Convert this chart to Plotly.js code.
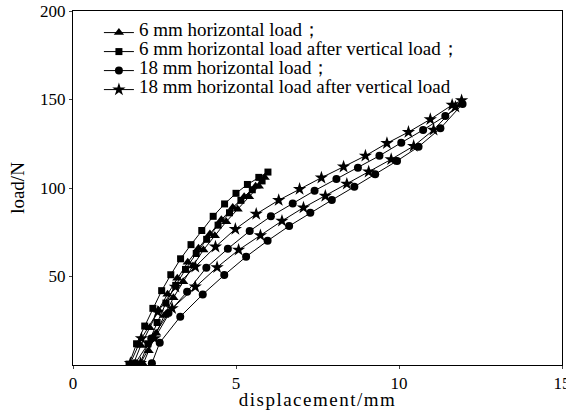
<!DOCTYPE html>
<html>
<head>
<meta charset="utf-8">
<script src="https://cdn.plot.ly/plotly-3.0.1.min.js"></script>
<style>
html,body{margin:0;padding:0;background:#fff;}
#chart{width:566px;height:410px;}
#chart text{font-family:"Liberation Serif","Times New Roman",serif !important;}
#chart .legend .legendtext{font-size:19px !important;}
#chart .legend .scrollbox{clip-path:none !important;}
#chart .legend g{clip-path:none !important;}
#chart .xtitle{letter-spacing:1.5px;}
</style>
</head>
<body>
<div id="chart"></div>
<script>
// 6 mm horizontal load (triangle): loading branch then unloading branch
const disp6H = [1.85, 2.08, 2.35, 2.62, 2.9, 3.2, 3.52, 3.85, 4.2, 4.55, 4.9, 5.25, 5.6, 5.88,
                5.7, 5.4, 5.05, 4.7, 4.35, 4.0, 3.68, 3.38, 3.08, 2.8, 2.55, 2.32, 2.15];
const load6H = [0.5, 11, 21, 31, 40, 49, 58, 66, 74, 82, 89, 95, 101, 106,
                101, 95, 88, 81, 73, 65, 56, 47, 38, 28, 18, 8, 0.5];
// 6 mm horizontal load after vertical load (square)
const disp6HV = [1.72, 1.95, 2.2, 2.45, 2.72, 3.0, 3.3, 3.62, 3.95, 4.3, 4.65, 5.0, 5.35, 5.7, 5.98,
                 5.8, 5.5, 5.15, 4.8, 4.45, 4.1, 3.78, 3.45, 3.15, 2.85, 2.58, 2.3, 2.05];
const load6HV = [0.5, 12, 22, 32, 42, 51, 60, 68, 76, 84, 91, 97, 102, 106, 109,
                 104, 99, 93, 86, 79, 71, 63, 54, 45, 35, 24, 12, 0.5];
// 18 mm horizontal load (circle)
const disp18H = [1.91, 2.4, 2.93, 3.50, 4.09, 4.75, 5.42, 6.07, 6.74, 7.41, 8.08, 8.74, 9.40, 10.07, 10.74, 11.42, 11.95,
                 11.27, 10.60, 9.94, 9.27, 8.63, 7.94, 7.28, 6.63, 5.97, 5.31, 4.64, 3.98, 3.29, 2.66, 2.42];
const load18H = [1.0, 15, 29.4, 41.4, 55.0, 65.7, 75.7, 84.0, 91.2, 98.5, 105.1, 111.5, 118.2, 125.6, 132.8, 140.7, 147.5,
                 133.7, 123.3, 115.3, 107.7, 100.7, 93.2, 86.0, 78.5, 70.2, 61.2, 50.8, 39.9, 27.3, 12.6, 1.0];
// 18 mm horizontal load after vertical load (star/diamond)
const disp18HV = [1.76, 2.1, 2.6, 3.14, 3.75, 4.37, 4.98, 5.62, 6.31, 6.95, 7.62, 8.30, 8.97, 9.63, 10.29, 10.96, 11.63, 11.92,
                  11.73, 11.06, 10.45, 9.76, 9.07, 8.40, 7.74, 7.07, 6.41, 5.75, 5.08, 4.42, 3.75, 3.04, 2.5, 2.07];
const load18HV = [1.0, 15, 30, 44.1, 55.5, 66.8, 76.8, 85.3, 93.1, 99.4, 105.8, 112.0, 118.2, 125.3, 131.6, 138.8, 146.9, 149.5,
                  145.8, 132.8, 123.7, 116.2, 109.2, 102.3, 95.5, 88.9, 81.4, 73.2, 65.0, 55.2, 44.2, 32.0, 15, 1.0];

const seriesNames = ["6 mm horizontal load；", "6 mm horizontal load after vertical load；",
                     "18 mm horizontal load；", "18 mm horizontal load after vertical load"];
const xTicks = [0, 5, 10, 15];
const yTicks = [50, 100, 150, 200];

function tr(x, y, name, symbol, size) {
  return {x: x, y: y, name: name, type: "scatter", mode: "lines+markers",
          line: {color: "#000", width: 1},
          marker: {symbol: symbol, size: size, color: "#000"}};
}
const data = [
  tr(disp6H, load6H, seriesNames[0], "triangle-up", 9),
  tr(disp6HV, load6HV, seriesNames[1], "square", 7),
  tr(disp18H, load18H, seriesNames[2], "circle", 8),
  tr(disp18HV, load18HV, seriesNames[3], "star", 10)
];
const FAM = "\"Liberation Serif\", \"Times New Roman\", \"DejaVu Serif\", serif";
function f(size) { return {family: FAM, size: size, color: "#000"}; }
const layout = {
  width: 566, height: 410,
  margin: {l: 73, r: 4, t: 11, b: 45},
  paper_bgcolor: "#fff", plot_bgcolor: "#fff",
  font: f(17),
  showlegend: true,
  legend: {x: 0.053, y: 0.98, xanchor: "left", yanchor: "top", bgcolor: "rgba(0,0,0,0)",
           font: f(10), tracegroupgap: 0},
  xaxis: {range: [0, 15], tickvals: xTicks, ticktext: xTicks.map(String), ticks: "outside", ticklen: 3,
          ticklabeloverflow: "allow",
          showline: true, linecolor: "#000", linewidth: 1, mirror: true, showgrid: false, zeroline: false,
          tickfont: f(17),
          title: {text: "displacement/mm", font: f(19), standoff: 0}},
  yaxis: {range: [0, 200], tickvals: yTicks, ticktext: yTicks.map(String), ticks: "outside", ticklen: 3,
          showline: true, linecolor: "#000", linewidth: 1, mirror: true, showgrid: false, zeroline: false,
          tickfont: f(17),
          title: {text: "load/N", font: f(19), standoff: 10}}
};
Plotly.newPlot("chart", data, layout, {staticPlot: true, displayModeBar: false});
</script>
</body>
</html>
